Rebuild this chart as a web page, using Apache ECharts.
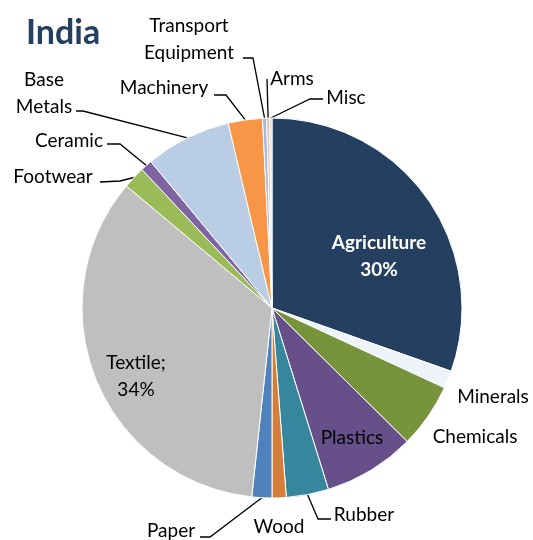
<!DOCTYPE html>
<html>
<head>
<meta charset="utf-8">
<script src="https://cdn.jsdelivr.net/npm/echarts@6/dist/echarts.min.js"></script>
<style>
  html, body { margin: 0; padding: 0; background: #fff; }
  #chart { width: 533px; height: 540px; }
</style>
</head>
<body>
<div id="chart"></div>
<script>
// India – export composition by sector (share of total, %)
const categories = [
  'Agriculture', 'Minerals', 'Chemicals', 'Plastics', 'Rubber', 'Wood', 'Paper',
  'Textile', 'Footwear', 'Ceramic', 'Base Metals', 'Machinery',
  'Transport Equipment', 'Arms', 'Misc'
];
const shares = [
  30.4, 1.5, 5.5, 7.8, 3.6, 1.2, 1.7,
  34.4, 1.9, 1.0, 7.3, 2.9,
  0.35, 0.25, 0.2
];
const sliceColors = [
  '#243F60', '#EEF3F9', '#77933C', '#67508A', '#36879E', '#D47E3A', '#4F81BD',
  '#BFBFBF', '#9BBB59', '#8064A2', '#B9CDE5', '#F79646',
  '#A7B9D8', '#E6B9B8', '#D7E4BD'
];

const FONT = 'Lato, "Liberation Sans", sans-serif';

// label anchor (text centre) and leader-line bend / end points, in page pixels
const labelPlacement = {
  'Agriculture':         { at: [379, 256] },
  'Minerals':            { at: [493, 397] },
  'Chemicals':           { at: [475, 437] },
  'Plastics':            { at: [352, 438] },
  'Rubber':              { at: [364, 515], line: [[318, 519], [331, 519]] },
  'Wood':                { at: [279, 527] },
  'Paper':               { at: [171, 531], line: [[210, 537], [200, 537]] },
  'Textile':             { at: [136, 376] },
  'Footwear':            { at: [53, 177],  line: [[120, 181], [100, 182]] },
  'Ceramic':             { at: [69, 141],  line: [[120, 144], [107, 144]] },
  'Base Metals':         { at: [44, 93],   line: [[83, 111], [76, 111]] },
  'Machinery':           { at: [164, 88],  line: [[226, 95], [214, 95]] },
  'Transport Equipment': { at: [189, 39],  line: [[253, 58], [243, 58]] },
  'Arms':                { at: [292, 79],  line: [[267, 79], [267, 79]] },
  'Misc':                { at: [346, 98],  line: [[310, 99], [323, 99]] }
};

const seriesData = categories.map((name, i) => {
  const item = {
    name: name,
    value: shares[i],
    itemStyle: { color: sliceColors[i] },
    labelLine: { show: !!labelPlacement[name].line }
  };
  if (name === 'Agriculture') {
    item.label = { formatter: '{b}\n{d}%', color: '#ffffff', fontWeight: 'bold' };
  } else if (name === 'Textile') {
    item.label = { formatter: '{b};\n{d}%' };
  } else if (name === 'Transport Equipment') {
    item.label = { formatter: 'Transport\nEquipment' };
  } else if (name === 'Base Metals') {
    item.label = { formatter: 'Base\nMetals' };
  }
  return item;
});

const chart = echarts.init(document.getElementById('chart'), null, { renderer: 'canvas' });

chart.setOption({
  backgroundColor: '#ffffff',
  animation: false,
  title: {
    text: 'India',
    left: 21,
    top: 11,
    textStyle: { fontFamily: FONT, fontSize: 34, fontWeight: 'bold', color: '#243F60' }
  },
  series: [{
    type: 'pie',
    center: [272, 308],
    radius: 190,
    startAngle: 90,
    clockwise: true,
    percentPrecision: 0,
    avoidLabelOverlap: false,
    silent: true,
    itemStyle: { borderColor: '#ffffff', borderWidth: 1 },
    label: {
      show: true,
      position: 'outside',
      formatter: '{b}',
      fontFamily: FONT,
      fontSize: 19,
      lineHeight: 27,
      color: '#000000'
    },
    labelLine: {
      show: true,
      smooth: false,
      lineStyle: { color: '#000000', width: 1.3 }
    },
    labelLayout: function (params) {
      const name = categories[params.dataIndex];
      const place = labelPlacement[name];
      const out = {
        x: place.at[0],
        y: place.at[1],
        align: 'center',
        verticalAlign: 'middle'
      };
      if (place.line && params.labelLinePoints) {
        const start = params.labelLinePoints[0];
        out.labelLinePoints = [[start[0], start[1]], place.line[0], place.line[1]];
      }
      return out;
    },
    emphasis: { disabled: true },
    data: seriesData
  }]
});
</script>
</body>
</html>
